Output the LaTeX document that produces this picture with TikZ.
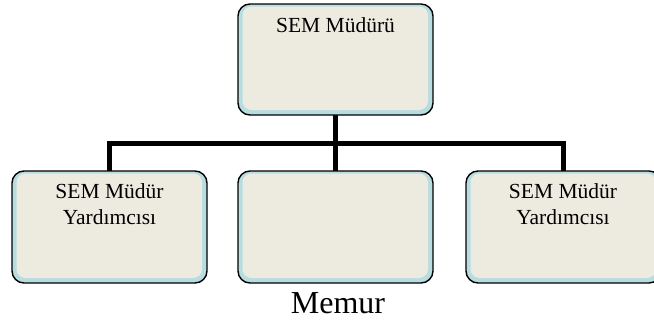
\documentclass[tikz,border=0pt]{standalone}
\usepackage{fontspec}
\setmainfont{Liberation Serif}
\definecolor{boxblue}{HTML}{B7DDE0}
\definecolor{boxcream}{HTML}{EDEAE0}
\pgfdeclarelayer{background}
\pgfsetlayers{background,main}
\tikzset{
  orgbox/.style={draw=black, line width=1.4pt, fill=boxblue, rounded corners=12pt,
    minimum width=195pt, minimum height=112pt, inner sep=0pt, outer sep=0pt,
    path picture={\fill[boxcream, rounded corners=9pt]
      ([shift={(4.5pt,5pt)}]path picture bounding box.south west) rectangle
      ([shift={(-5pt,-2.5pt)}]path picture bounding box.north east);}},
  conn/.style={line width=5pt, line join=miter},
  boxtext/.style={font=\fontsize{21.5pt}{26pt}\selectfont, align=center, inner sep=0pt, anchor=base}
}
\begin{document}
\begin{tikzpicture}[x=1pt,y=-1pt]
\useasboundingbox (0,0) rectangle (654,322);
\clip (0,0) rectangle (654,322);
\coordinate (bar) at (0,143.5);
\node[orgbox, minimum height=111pt] (top) at (335.5,59.5) {};
\node[orgbox] (left) at (109.5,227) {};
\node[orgbox] (mid) at (335.5,227) {};
\node[orgbox] (right) at (563.5,227) {};
\begin{pgfonlayer}{background}
\draw[conn] (top.south) -- (top.south |- bar) -| (left.north);
\draw[conn] (top.south |- bar) -| (right.north);
\draw[conn] (top.south |- bar) -- (mid.north);
\end{pgfonlayer}
\node[boxtext] (ttop) at (335.5,32) {SEM Müdürü};
\node[boxtext] (tleft) at (109.5,198) {SEM Müdür};
\node[boxtext] (tleft2) at (109.5,224) {Yardımcısı};
\node[boxtext] (tright) at (563,198) {SEM Müdür};
\node[boxtext] (tright2) at (563,224) {Yardımcısı};
\node[font=\fontsize{32pt}{38pt}\selectfont, inner sep=0pt, anchor=base] (memur) at (338,313) {Memur};
\end{tikzpicture}
\end{document}
